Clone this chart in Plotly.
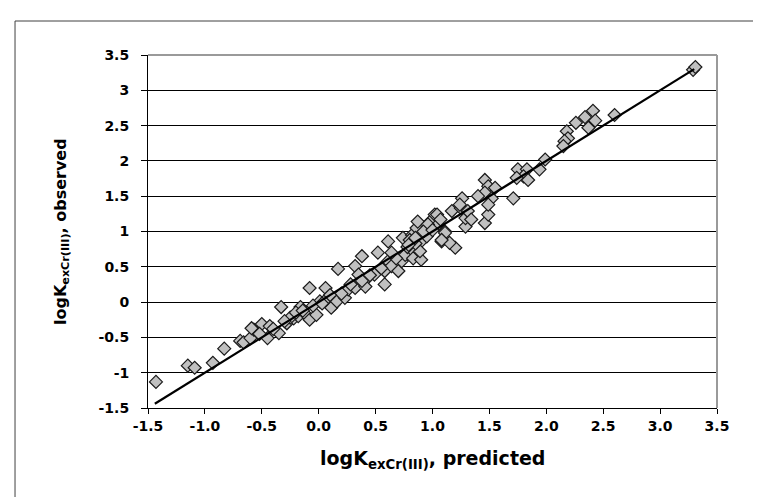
import plotly.graph_objects as go

# observed vs predicted logK values
predicted = [
    -1.43, -1.15, -1.09, -0.93, -0.83, -0.69, -0.66, -0.60, -0.57, -0.45,
    -0.35, -0.59, -0.50, -0.43, -0.33, -0.28, -0.22, -0.16, -0.18, -0.11,
    -0.08, -0.02, -0.08, 0.06, 0.01, 0.08, 0.13, 0.11, 0.16, 0.23,
    0.17, 0.32, 0.38, 0.35, 0.26, 0.32, 0.42, 0.41, 0.49, 0.52,
    0.58, 0.58, 0.61, 0.61, 0.64, 0.70, 0.73, 0.74, 0.76, 0.82,
    0.82, 0.83, 0.86, 0.87, 0.90, 0.90, 0.89, 0.98, 1.02, 1.05,
    1.08, 1.11, 1.17, 1.20, 1.15, 1.29, 1.29, 1.25, 1.46, 1.49,
    3.29, 3.31, 2.60, 2.41, 2.34, 2.43, 2.26, 2.37, 2.18, 2.19,
    2.16, 2.15, 1.99, 1.94, 1.75, 1.83, 1.80, 1.74, 1.84, 1.46,
    1.49, 1.55, 1.46, 1.40, 1.52, 1.71, 1.49, 1.26, 1.24, 1.31,
    1.34, 1.04, 1.07, 0.96, 1.11, 1.08,
    -0.25, -0.20, -0.14, -0.05, 0.03, 0.20, 0.28, 0.45, 0.55, 0.68,
    0.78, 0.85, 0.95, 0.92, -0.40, -0.52, -0.30, 0.10, 0.38, 0.64,
    1.00, 0.80, 0.79, 0.85,
]
observed = [
    -1.13, -0.90, -0.93, -0.86, -0.66, -0.55, -0.57, -0.51, -0.39, -0.51,
    -0.44, -0.37, -0.31, -0.34, -0.07, -0.30, -0.23, -0.07, -0.20, -0.18,
    -0.25, -0.18, 0.20, 0.20, 0.01, 0.06, -0.04, -0.08, 0.01, 0.06,
    0.47, 0.51, 0.65, 0.39, 0.18, 0.20, 0.33, 0.22, 0.39, 0.70,
    0.25, 0.44, 0.86, 0.58, 0.51, 0.44, 0.58, 0.91, 0.67, 0.74,
    0.95, 0.62, 1.05, 1.14, 0.86, 0.60, 0.72, 1.14, 1.24, 1.10,
    0.86, 1.00, 1.29, 0.77, 0.84, 1.07, 1.19, 1.33, 1.12, 1.24,
    3.29, 3.33, 2.65, 2.71, 2.62, 2.57, 2.54, 2.47, 2.42, 2.32,
    2.28, 2.21, 2.02, 1.88, 1.88, 1.88, 1.78, 1.76, 1.73, 1.73,
    1.64, 1.62, 1.55, 1.50, 1.47, 1.47, 1.38, 1.47, 1.38, 1.29,
    1.17, 1.24, 1.17, 1.10, 0.98, 0.88,
    -0.22, -0.15, -0.12, -0.05, -0.02, 0.12, 0.25, 0.38, 0.48, 0.62,
    0.78, 0.83, 0.93, 1.00, -0.38, -0.45, -0.27, 0.10, 0.30, 0.70,
    1.02, 0.88, 0.81, 0.91,
]

# fitted line end points
fit_x = [-1.44, 3.30]
fit_y = [-1.44, 3.30]

x_tickvals = [-1.5, -1.0, -0.5, 0.0, 0.5, 1.0, 1.5, 2.0, 2.5, 3.0, 3.5]
x_ticktext = ["-1.5", "-1.0", "-0.5", "0.0", "0.5", "1.0", "1.5", "2.0", "2.5", "3.0", "3.5"]
y_tickvals = [-1.5, -1.0, -0.5, 0.0, 0.5, 1.0, 1.5, 2.0, 2.5, 3.0, 3.5]
y_ticktext = ["-1.5", "-1", "-0.5", "0", "0.5", "1", "1.5", "2", "2.5", "3", "3.5"]

x_title = "logK<sub>exCr(III)</sub>, predicted"
y_title = "logK<sub>exCr(III)</sub>, observed"

FONT = "DejaVu Sans"

fig = go.Figure()
fig.add_trace(go.Scatter(
    x=predicted, y=observed, mode="markers",
    marker=dict(symbol="diamond", size=10, color="#C0C0C0",
                line=dict(color="#1a1a1a", width=1.2)),
    showlegend=False, hoverinfo="skip",
))
fig.add_trace(go.Scatter(
    x=fit_x, y=fit_y, mode="lines",
    line=dict(color="black", width=2.2),
    showlegend=False, hoverinfo="skip",
))

fig.update_layout(
    width=761, height=497,
    margin=dict(l=140, r=52, t=47, b=97),
    paper_bgcolor="white", plot_bgcolor="white",
    font=dict(family=FONT, color="black"),
    xaxis=dict(
        range=[-1.5, 3.5], tickvals=x_tickvals, ticktext=x_ticktext,
        showgrid=False, zeroline=False, showline=True, linecolor="black",
        linewidth=1, ticks="outside", ticklen=5, tickcolor="black",
        tickfont=dict(family=FONT, size=14, weight="bold"),
    ),
    yaxis=dict(
        range=[-1.5, 3.5], tickvals=y_tickvals, ticktext=y_ticktext,
        showgrid=True, gridcolor="black", gridwidth=1,
        zeroline=False, showline=True, linecolor="black",
        linewidth=1, ticks="outside", ticklen=6, tickcolor="black",
        tickfont=dict(family=FONT, size=14, weight="bold"),
        ticklabelstandoff=9,
    ),
    shapes=[
        dict(type="line", xref="paper", yref="paper", x0=0, x1=1, y0=1, y1=1,
             line=dict(color="#9a9a9a", width=2), layer="above"),
        dict(type="line", xref="paper", yref="paper", x0=1, x1=1, y0=0, y1=1,
             line=dict(color="#9a9a9a", width=2), layer="above"),
        dict(type="rect", xref="paper", yref="paper", x0=-0.2337, x1=2,
             y0=-1, y1=1.0963, line=dict(color="#404040", width=1),
             fillcolor="rgba(0,0,0,0)", layer="above"),
    ],
    annotations=[
        dict(text=x_title, xref="paper", yref="paper", x=0.5, y=-0.146,
             xanchor="center", yanchor="middle", showarrow=False,
             font=dict(family=FONT, size=19, weight="bold")),
        dict(text=y_title, xref="paper", yref="paper", x=-0.152, y=0.5,
             xanchor="center", yanchor="middle", showarrow=False, textangle=-90,
             font=dict(family=FONT, size=16, weight="bold")),
    ],
)

fig.write_html("out.html")
